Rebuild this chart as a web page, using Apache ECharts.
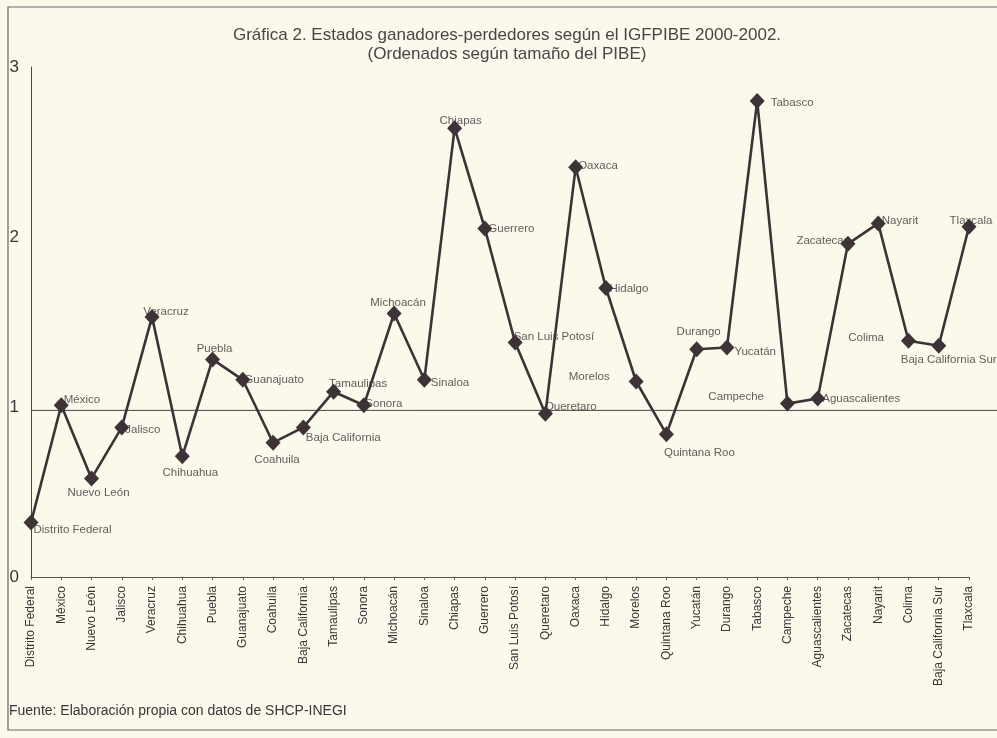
<!DOCTYPE html>
<html>
<head>
<meta charset="utf-8">
<script src="https://cdn.jsdelivr.net/npm/echarts@6/dist/echarts.min.js"></script>
<style>
html,body{margin:0;padding:0;background:#fbf8ec;}
#c{width:997px;height:738px;}
</style>
</head>
<body>
<div id="c"></div>
<script>
// ---- DATA ----
const categories = ['Distrito Federal','México','Nuevo León','Jalisco','Veracruz','Chihuahua','Puebla','Guanajuato','Coahuila','Baja California','Tamaulipas','Sonora','Michoacán','Sinaloa','Chiapas','Guerrero','San Luis Potosí','Queretaro','Oaxaca','Hidalgo','Morelos','Quintana Roo','Yucatán','Durango','Tabasco','Campeche','Aguascalientes','Zacatecas','Nayarit','Colima','Baja California Sur','Tlaxcala'];
const values = [0.32,1.01,0.58,0.88,1.53,0.71,1.28,1.16,0.79,0.88,1.09,1.01,1.55,1.16,2.64,2.05,1.38,0.96,2.41,1.70,1.15,0.84,1.34,1.35,2.80,1.02,1.05,1.96,2.08,1.39,1.36,2.06];
const pointLabels = ['Distrito Federal','México','Nuevo León','Jalisco','Veracruz','Chihuahua','Puebla','Guanajuato','Coahuila','Baja California','Tamaulipas','Sonora','Michoacán','Sinaloa','Chiapas','Guerrero','San Luis Potosí','Queretaro','Oaxaca','Hidalgo','Morelos','Quintana Roo','Durango','Yucatán','Tabasco','Campeche','Aguascalientes','Zacatecas','Nayarit','Colima','Baja California Sur','Tlaxcala'];
const yTicks = [0,1,2,3];
const refValue = 0.98;
const titleLines = ['Gráfica 2. Estados ganadores-perdedores según el IGFPIBE 2000-2002.','(Ordenados según tamaño del PIBE)'];
const sourceText = 'Fuente: Elaboración propia con datos de SHCP-INEGI';

// ---- label placement (style only) ----
const placement = [
  ['right',-5,7],['right',-5,-5],['bottom',7,0],['right',-4,2],['top',14,9],
  ['bottom',8,3],['top',2,3],['right',-6,0],['bottom',4,3],['right',-5,10],
  ['right',-12,-8],['right',-6,-1],['top',4,3],['right',-1,3],['top',6,7],
  ['right',-4,0],['right',-9,-6],['right',-8,-7],['right',-5,-1],['right',-4,1],
  ['left',-19,-5],['bottom',33,5],['top',2,-3],['right',0,4],['right',6,2],
  ['left',-16,-7],['right',-3,0],['left',9,-3],['right',-4,-3],['left',-17,-3],
  ['bottom',10,0],['top',2,8]
];

const lineColor = '#3d3236';
const textColor = '#3a3536';
const fontFam = '"Liberation Sans", Arial, sans-serif';

const labelData = values.map((v,i)=>({
  value: v,
  label: {
    show: true,
    formatter: pointLabels[i],
    position: placement[i][0],
    distance: 0,
    offset: [placement[i][1], placement[i][2]]
  }
}));

const chart = echarts.init(document.getElementById('c'), null, {renderer:'canvas'});
chart.setOption({
  backgroundColor: '#fbf8ec',
  animation: false,
  title: {
    text: titleLines.join('\n'),
    left: 502, top: 21, textAlign: 'center',
    textStyle: {fontFamily: fontFam, fontSize: 17, fontWeight: 'normal', color: '#4a4446', lineHeight: 19}
  },
  grid: {left: 31, right: 28, top: 67, bottom: 161},
  xAxis: {
    type: 'category',
    data: categories,
    boundaryGap: false,
    axisLine: {lineStyle: {color: '#555', width: 1}},
    axisTick: {show: true, length: 3, lineStyle: {color: '#666'}},
    axisLabel: {rotate: 90, margin: 9, fontSize: 12, fontFamily: fontFam, color: textColor, interval: 0}
  },
  yAxis: {
    type: 'value',
    min: 0, max: 3, interval: 1,
    splitLine: {show: false},
    axisLine: {show: true, lineStyle: {color: '#444', width: 1}},
    axisTick: {show: false},
    axisLabel: {margin: 12, fontSize: 17, fontFamily: fontFam, color: '#3a3536',
      formatter: v => yTicks.includes(v) ? String(v) : ''}
  },
  series: [
    {
      type: 'scatter',
      z: 2,
      symbol: 'diamond',
      symbolSize: [15,16],
      itemStyle: {color: 'rgba(0,0,0,0)'},
      label: {fontSize: 11.5, fontFamily: fontFam, color: textColor},
      data: labelData,
      silent: true
    },
    {
      type: 'line',
      z: 5,
      data: values,
      symbol: 'diamond',
      symbolSize: [15,16],
      lineStyle: {color: lineColor, width: 2.6},
      itemStyle: {color: lineColor, borderWidth: 0}
    }
  ]
});

const yRef = chart.convertToPixel({yAxisIndex: 0}, refValue);
const x0 = chart.convertToPixel({xAxisIndex: 0}, categories[0]);
chart.setOption({
  graphic: [
    {type: 'line', z: 1, shape: {x1: x0, y1: yRef, x2: 997, y2: yRef}, style: {stroke: '#4a4446', lineWidth: 1}},
    {type: 'rect', z: 0, shape: {x: 8, y: 7, width: 995, height: 723}, style: {fill: 'none', stroke: '#6a6466', lineWidth: 1.2}},
    {type: 'text', left: 9, top: 704, style: {text: sourceText, font: '14px ' + fontFam, fill: textColor}}
  ]
});
</script>
</body>
</html>
